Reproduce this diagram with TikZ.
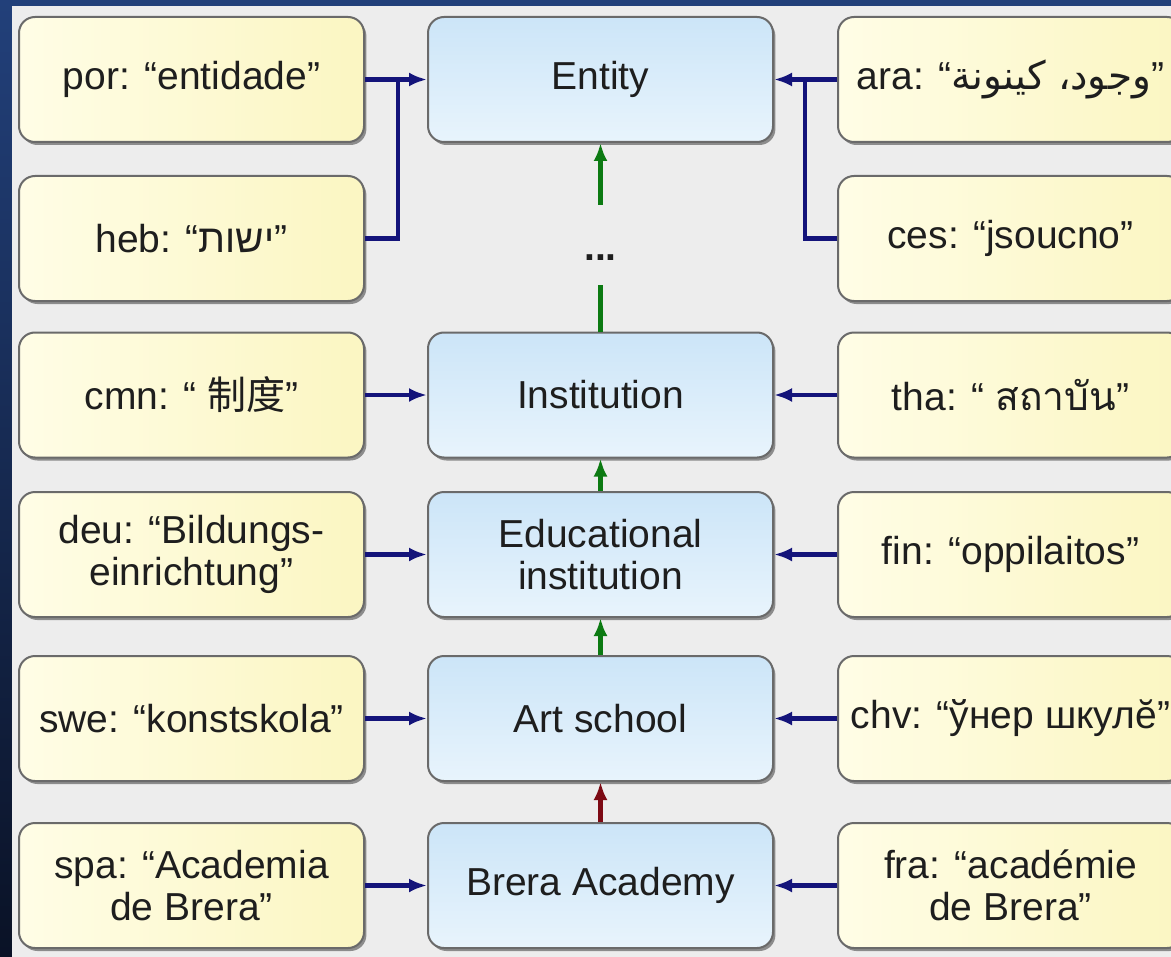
\documentclass[tikz,border=0pt]{standalone}
\usepackage{fontspec}
\setmainfont{Liberation Sans}
\newfontfamily\hebfont[Script=Hebrew]{Liberation Sans}
\newfontfamily\arabicfont[Script=Arabic]{DejaVu Sans}
\newfontfamily\thaifont[Script=Thai]{Loma}
\newfontfamily\cjkfont{Noto Sans CJK SC}
\TeXXeTstate=1
\usepackage{tikz}
\usetikzlibrary{arrows.meta, shadows, calc, positioning}
\usepackage{xcolor}

\definecolor{frameTop}{HTML}{22407A}
\definecolor{frameBot}{HTML}{0A1226}
\definecolor{paper}{HTML}{EDEDED}
\definecolor{boxline}{HTML}{6A6A6A}
\definecolor{termA}{HTML}{FFFDE6}
\definecolor{termB}{HTML}{FBF6C2}
\definecolor{conA}{HTML}{CCE5F8}
\definecolor{conB}{HTML}{E8F4FC}
\definecolor{txt}{HTML}{1E1E1E}
\definecolor{navy}{HTML}{14147A}
\definecolor{isagreen}{HTML}{0C7A12}
\definecolor{instred}{HTML}{7D0A14}

\tikzset{
  labelbox/.style={rounded corners=8pt, draw=boxline, line width=1pt,
    minimum width=172.5pt, minimum height=62.5pt, align=center, text=txt,
    font=\fontsize{19.5}{21}\selectfont,
    drop shadow={shadow xshift=1.2pt, shadow yshift=-1.5pt, fill=black!70, opacity=.6}},
  langbox/.style={labelbox, left color=termA, right color=termB},
  conceptbox/.style={labelbox, top color=conA, bottom color=conB},
  syn/.style={draw=navy, line width=2.2pt, -{Latex[length=9pt,width=7pt]}},
  synline/.style={draw=navy, line width=2.2pt},
  isa/.style={draw=isagreen, line width=2.2pt, -{Latex[length=9pt,width=7pt]}},
  isaline/.style={draw=isagreen, line width=2.2pt},
  inst/.style={draw=instred, line width=2.2pt, -{Latex[length=9pt,width=7pt]}}
}

\begin{document}
\begin{tikzpicture}[x=0.5pt, y=-0.5pt]
  \clip (0,0) rectangle (1171,957);
  % frame and paper
  \shade[top color=frameTop, bottom color=frameBot] (0,0) rectangle (1171,957);
  \fill[paper] (12,6) rectangle (1171,957);

  % concepts (middle column)
  \node[conceptbox] (entity) at (600.5,79.5) {Entity};
  \node[font=\fontsize{19.5}{21}\selectfont\bfseries, text=txt] (dots) at (600.5,258) {...};
  \node[conceptbox] (institution) at (600.5,395) {Institution};
  \node[conceptbox] (eduinst) at (600.5,554.5) {Educational\\institution};
  \node[conceptbox] (artschool) at (600.5,718.5) {Art school};
  \node[conceptbox] (brera) at (600.5,885.5) {Brera Academy};

  % labels, left column
  \node[langbox] (por) at (191.5,79.5) {por: “entidade”};
  \node[langbox] (heb) at (191.5,238.5) {heb: “{\hebfont\beginR ישות\endR}”};
  \node[langbox] (cmn) at (191.5,395) {cmn: “ {\cjkfont 制度}”};
  \node[langbox] (deu) at (191.5,554.5) {deu: “Bildungs-\\einrichtung”};
  \node[langbox] (swe) at (191.5,718.5) {swe: “konstskola”};
  \node[langbox] (spa) at (191.5,885.5) {spa: “Academia\\de Brera”};

  % labels, right column
  \node[langbox] (ara) at (1010.5,79.5) {ara: “{\arabicfont\beginR وجود، كينونة\endR}”};
  \node[langbox] (ces) at (1010.5,238.5) {ces: “jsoucno”};
  \node[langbox] (tha) at (1010.5,395) {tha: “ {\thaifont สถาบัน}”};
  \node[langbox] (fin) at (1010.5,554.5) {fin: “oppilaitos”};
  \node[langbox] (chv) at (1010.5,718.5) {chv: “ўнер шкулĕ”};
  \node[langbox] (fra) at (1010.5,885.5) {fra: “académie\\de Brera”};

  % joints
  \coordinate (jl) at (398,79.5);
  \coordinate (jr) at (805,79.5);
  \coordinate (gaptop) at (600.5,205);
  \coordinate (gapbot) at (600.5,285);

  % lexicalisations
  \draw[syn] (por) -- (entity);
  \draw[synline] (heb.east) -| (jl);
  \draw[syn] (ara) -- (entity);
  \draw[synline] (ces.west) -| (jr);
  \foreach \l/\c in {cmn/institution, deu/eduinst, swe/artschool, spa/brera,
                     tha/institution, fin/eduinst, chv/artschool, fra/brera}
    \draw[syn] (\l) -- (\c);

  % hierarchy
  \draw[isa] (gaptop) -- (entity);
  \draw[isaline] (institution) -- (gapbot);
  \draw[isa] (eduinst) -- (institution);
  \draw[isa] (artschool) -- (eduinst);
  \draw[inst] (brera) -- (artschool);
\end{tikzpicture}
\end{document}
